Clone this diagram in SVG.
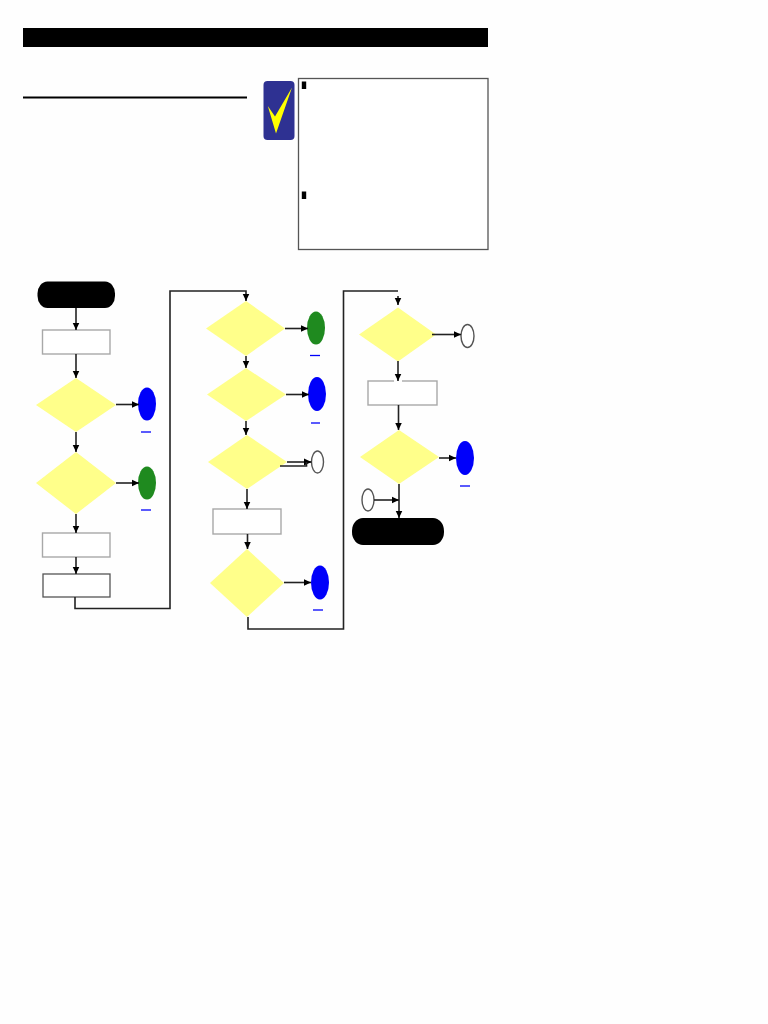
<svg xmlns="http://www.w3.org/2000/svg" width="768" height="1024" viewBox="0 0 768 1024">
<defs>
<marker id="arrow" markerUnits="userSpaceOnUse" markerWidth="8" markerHeight="8" refX="7.500" refY="4" orient="auto"><path d="M0 0.500L7.500 4L0 7.500Z" fill="#000"/></marker>
</defs>
<style>
.d{fill:#ffff8a}
.r{fill:#fff;stroke:#a8a8a8;stroke-width:1.4}
.t{fill:#000}
.b{fill:#0000fa}
.g{fill:#1f8a1f}
.h{fill:#fff;stroke:#555;stroke-width:1.4}
.u{stroke:#0000fa;stroke-width:1.300;fill:none}
.c{fill:none;stroke:#222;stroke-width:1.600}
.a{marker-end:url(#arrow)}
</style>
<rect width="768" height="1024" fill="#fefefe"/>
<g id="header">
<rect x="23" y="28" width="465" height="19" fill="#000"/>
<line x1="23" y1="97.500" x2="247" y2="97.500" stroke="#000" stroke-width="2"/>
</g>
<g id="badge">
<rect x="263.500" y="81" width="31" height="59" rx="4" fill="#2e3192"/>
<polygon points="267.800,106 275,116.500 292,87.500 276,133.500" fill="#ffff00"/>
</g>
<g id="note">
<rect x="298.500" y="78.500" width="189.500" height="171" fill="#fff" stroke="#555" stroke-width="1.300"/>
<rect x="301.800" y="81.500" width="4.400" height="7.500" fill="#000"/>
<rect x="301.800" y="191.500" width="4.400" height="7.500" fill="#000"/>
</g>
<g id="start"><rect class="t" x="37.500" y="281.500" width="77.500" height="26.500" rx="10" ry="12"/></g>
<g id="p1"><rect class="r" x="42.500" y="330" width="67.500" height="24"/></g>
<g id="d1"><polygon class="d" points="76,378 116,405 76,432 36,405"/></g>
<g id="o1"><ellipse class="b" cx="147" cy="404" rx="9" ry="16.500"/><line class="u" x1="141" y1="432" x2="151" y2="432"/></g>
<g id="d2"><polygon class="d" points="76,452 116,483 76,514 36,483"/></g>
<g id="o2"><ellipse class="g" cx="147" cy="483" rx="9" ry="16.500"/><line class="u" x1="141" y1="510" x2="151" y2="510"/></g>
<g id="p2"><rect class="r" x="42.500" y="533" width="67.500" height="24"/></g>
<g id="p3"><rect x="43" y="574" width="67" height="23" fill="#fff" stroke="#555" stroke-width="1.300"/></g>
<g id="d3"><polygon class="d" points="246,301 285,328.500 246,356 206,328.500"/></g>
<g id="o3"><ellipse class="g" cx="316" cy="328" rx="9" ry="16.500"/><line class="u" x1="310" y1="355.500" x2="320" y2="355.500"/></g>
<g id="d4"><polygon class="d" points="246,368 286,394.500 246,421 207,394.500"/></g>
<g id="o4"><ellipse class="b" cx="317" cy="394" rx="9" ry="17"/><line class="u" x1="311" y1="423" x2="320" y2="423"/></g>
<g id="d5"><polygon class="d" points="247,435 287,462 247,489 208,462"/></g>
<g id="o5"><ellipse class="h" cx="317.500" cy="462" rx="6" ry="11"/></g>
<g id="p4"><rect class="r" x="213" y="509" width="68" height="25"/></g>
<g id="d6"><polygon class="d" points="247,549 284,583 247,617 210,583"/></g>
<g id="o6"><ellipse class="b" cx="320" cy="582.500" rx="9" ry="17"/><line class="u" x1="313" y1="610" x2="323" y2="610"/></g>
<g id="d7"><polygon class="d" points="398,307.500 436,334.500 398,361.500 359,334.500"/></g>
<g id="o7"><ellipse class="h" cx="467.500" cy="336" rx="6.500" ry="11.500"/></g>
<g id="p5"><rect class="r" x="368" y="381" width="69" height="24"/><line x1="394" y1="381" x2="402" y2="381" stroke="#fefefe" stroke-width="2"/></g>
<g id="d8"><polygon class="d" points="399,430 439,457 399,484 360,457"/></g>
<g id="o8"><ellipse class="b" cx="465" cy="458" rx="9" ry="17"/><line class="u" x1="460" y1="486" x2="470" y2="486"/></g>
<g id="o9"><ellipse class="h" cx="368" cy="500" rx="6" ry="11"/></g>
<g id="end"><rect class="t" x="352" y="518" width="92" height="27" rx="11" ry="13"/></g>
<g id="connectors">
<path class="c a" d="M76 308V330"/>
<path class="c a" d="M76 354V378"/>
<path class="c a" d="M116 404.500H139"/>
<path class="c a" d="M76 432V452"/>
<path class="c a" d="M116 483H139"/>
<path class="c a" d="M76 514V533"/>
<path class="c a" d="M76 557V574"/>
<path class="c a" d="M75 597V608.500H170V291H246V301"/>
<path class="c a" d="M285 328.500H308"/>
<path class="c a" d="M246 356V368"/>
<path class="c a" d="M286 394.500H309"/>
<path class="c a" d="M246 421V435"/>
<path class="c a" d="M287 462H311.500"/>
<path class="c" d="M280 466H306.500V462"/>
<path class="c a" d="M247 489V509"/>
<path class="c a" d="M247.500 534V549"/>
<path class="c a" d="M284 582.500H311"/>
<path class="c" d="M248 617V629H343.500V291H398"/>
<path class="c a" d="M398 296V305"/>
<path class="c a" d="M432 334.500H461"/>
<path class="c a" d="M398 361V381"/>
<path class="c a" d="M398.500 405V430"/>
<path class="c a" d="M439 458H456"/>
<path class="c a" d="M399 484V518"/>
<path class="c a" d="M374 500H399"/>
</g>
</svg>
